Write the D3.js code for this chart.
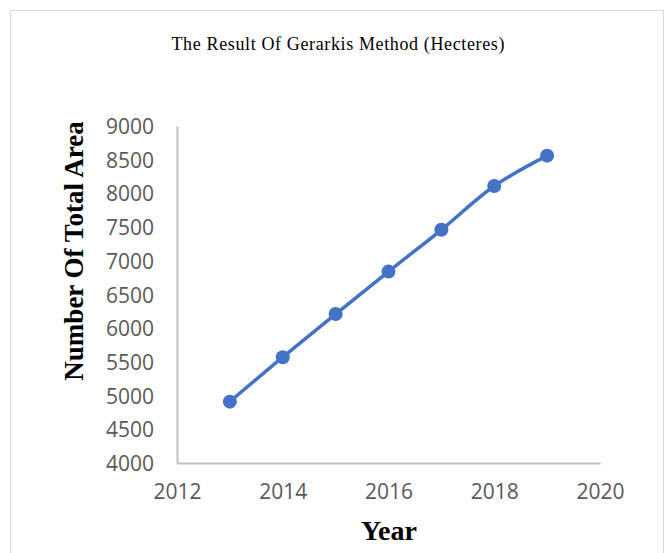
<html>
<head>
<script src="https://d3js.org/d3.v7.min.js"></script>
<style>
  body { margin: 0; background: #fff; }
</style>
</head>
<body>
<div id="chart"></div>
<script>
// data
var years = [2013, 2014, 2015, 2016, 2017, 2018, 2019];
var areas = [4910, 5570, 6210, 6840, 7460, 8110, 8560];
var xTicks = [2012, 2014, 2016, 2018, 2020];
var yTicks = [4000, 4500, 5000, 5500, 6000, 6500, 7000, 7500, 8000, 8500, 9000];

var width = 666, height = 553;
var plotLeft = 177, plotRight = 600, plotTop = 126, plotBottom = 463;

var svg = d3.select("#chart").append("svg")
  .attr("width", width)
  .attr("height", height);

// chart frame
svg.append("rect")
  .attr("x", 10.5).attr("y", 10.5)
  .attr("width", 653).attr("height", 560)
  .attr("fill", "#fff")
  .attr("stroke", "#d9d9d9")
  .attr("stroke-width", 1);

var x = d3.scaleLinear().domain([2012, 2020]).range([plotLeft, plotRight]);
var y = d3.scaleLinear().domain([4000, 9000]).range([plotBottom, plotTop]);

// axes
var xAxis = svg.append("g")
  .attr("transform", "translate(0," + plotBottom + ")")
  .call(d3.axisBottom(x).tickValues(xTicks).tickSize(0).tickPadding(21).tickFormat(d3.format("d")));
var yAxis = svg.append("g")
  .attr("transform", "translate(" + plotLeft + ",0)")
  .call(d3.axisLeft(y).tickValues(yTicks).tickSize(0).tickPadding(23).tickFormat(d3.format("d")));

[xAxis, yAxis].forEach(function(g){
  g.select(".domain").attr("stroke", "#bfbfbf").attr("stroke-width", 2);
  g.selectAll("text")
    .attr("fill", "#595959")
    .style("font-family", "'Open Sans', sans-serif")
    .style("font-size", "21px");
});
yAxis.selectAll("text").attr("dy", "0.36em");

// line
var line = d3.line()
  .x(function(d, i){ return x(years[i]); })
  .y(function(d){ return y(d); })
  .curve(d3.curveCatmullRom.alpha(0.5));

svg.append("path")
  .datum(areas)
  .attr("d", line)
  .attr("fill", "none")
  .attr("stroke", "#4472c4")
  .attr("stroke-width", 3.5)
  .attr("stroke-linecap", "round");

svg.selectAll("circle.pt").data(areas).enter().append("circle")
  .attr("class", "pt")
  .attr("cx", function(d, i){ return x(years[i]); })
  .attr("cy", function(d){ return y(d); })
  .attr("r", 7)
  .attr("fill", "#4472c4");

// titles
svg.append("text")
  .text("The Result Of Gerarkis Method (Hecteres)")
  .attr("x", 338).attr("y", 50)
  .attr("text-anchor", "middle")
  .attr("textLength", 333)
  .style("font-family", "'Liberation Serif', serif")
  .style("font-size", "18px")
  .attr("fill", "#000");

svg.append("text")
  .text("Number Of Total Area")
  .attr("transform", "translate(83,251) rotate(-90)")
  .attr("text-anchor", "middle")
  .style("font-family", "'Liberation Serif', serif")
  .style("font-weight", "bold")
  .style("font-size", "27px")
  .attr("fill", "#000");

svg.append("text")
  .text("Year")
  .attr("x", 389).attr("y", 540)
  .attr("text-anchor", "middle")
  .style("font-family", "'Liberation Serif', serif")
  .style("font-weight", "bold")
  .style("font-size", "28px")
  .attr("fill", "#000");
</script>
</body>
</html>
